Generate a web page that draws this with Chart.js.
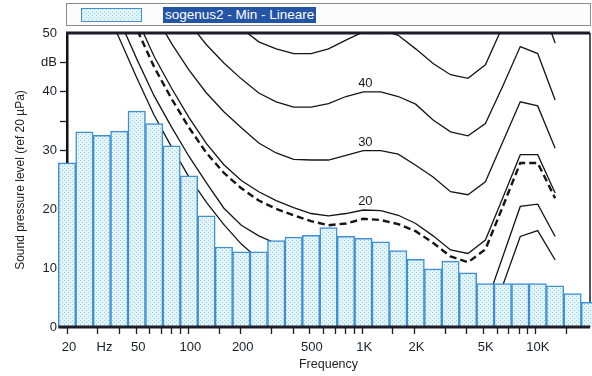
<!DOCTYPE html>
<html>
<head>
<meta charset="utf-8">
<title>sogenus2 - Min - Lineare</title>
<script src="https://cdn.jsdelivr.net/npm/chart.js@4.4.1/dist/chart.umd.min.js"></script>
<style>
  html, body { margin: 0; padding: 0; background: #fff; }
  #wrap { position: relative; width: 592px; height: 376px; overflow: hidden; }
  #spl-chart { position: absolute; left: 0; top: 0; }
  .legend {
    position: absolute; left: 66px; top: 3px; width: 525px; height: 23px;
    box-sizing: border-box; border: 1px solid #8c8c8c; background: #fcfcfc;
  }
  .legend .swatch {
    position: absolute; left: 14px; top: 4px; width: 61px; height: 14px;
    box-sizing: border-box; border: 1.5px solid #3f8fd4; background: #e3f5fb;
  }
  .legend .name {
    position: absolute; left: 96px; top: 3px; height: 16px; line-height: 16px;
    padding: 0 2px; background: #2454a6; color: #fff;
    font: 13.5px "Liberation Sans", Arial, sans-serif;
  }
</style>
</head>
<body>
<div id="wrap">
  <canvas id="spl-chart" width="592" height="376"></canvas>
  <div class="legend">
    <span class="swatch" id="legend-swatch"></span>
    <span class="name">sogenus2 - Min - Lineare</span>
  </div>
</div>
<script>
// terzbanden (nominaal)
const bandHz = [20, 25, 31.5, 40, 50, 63, 80, 100, 125, 160, 200, 250, 315, 400, 500, 630, 800,
  1000, 1250, 1600, 2000, 2500, 3150, 4000, 5000, 6300, 8000, 10000, 12500, 16000, 20000];

// gemeten niveau per band (dB)
const levelDb = [27.9, 33.2, 32.6, 33.3, 36.7, 34.6, 30.8, 25.7, 18.9, 13.6, 12.8, 12.8, 14.7, 15.3,
  15.6, 16.9, 15.4, 15.1, 14.5, 13.0, 11.5, 9.9, 11.2, 9.2, 7.4, 7.4, 7.4, 7.4, 7.0, 5.7, 4.2];

// isofoon-lijnen, 20 Hz .. 12.5 kHz (null = niet getekend)
const curveLow = [null, null, 55.7, 49.1, 42.4, 36.0, 30.6, 25.5, 21.2, 17.4, 14.1, 11.5, 9.0, 7.0,
  5.8, 5.5, 5.2, 4.8, 4.5, 3.5, 3.0, 2.5, 1.5, 1.0, 1.5, 7.1, 15.4, 16.4, 11.4];
const curve10 = [null, null, 58.0, 52.3, 45.6, 39.3, 34.0, 29.0, 24.5, 20.2, 17.3, 15.5, 14.2, 12.0,
  11.0, 10.5, 10.2, 10.0, 9.5, 9.0, 8.0, 6.5, 5.0, 3.5, 3.5, 12.0, 20.5, 20.9, 15.4];
const curveDashed = [null, null, null, 57.2, 50.7, 44.2, 38.8, 33.9, 29.6, 26.2, 23.6, 21.5, 20.1,
  19.0, 18.0, 17.3, 17.6, 18.4, 18.2, 17.5, 16.3, 14.3, 12.0, 11.0, 13.2, 20.5, 27.9, 27.9, 21.9];
const curve20 = [null, null, null, 59.0, 52.5, 46.0, 40.6, 35.6, 31.2, 27.6, 24.9, 23.0, 21.5,
  20.3, 19.3, 18.9, 19.3, 19.9, 19.8, 19.0, 17.6, 15.5, 13.1, 12.5, 14.8, 22.0, 29.3, 29.3, 22.8];
const curve30 = [null, null, null, null, 59.0, 53.3, 48.2, 43.7, 39.8, 36.6, 33.9, 31.3, 29.6,
  28.5, 28.4, 28.4, 29.2, 30.0, 30.0, 29.4, 27.5, 25.5, 23.0, 22.5, 24.7, 31.5, 38.3, 37.6, 30.4];
const curve40 = [null, null, null, null, null, null, 55.5, 51.7, 48.0, 44.9, 42.2, 39.8, 38.3,
  37.4, 37.4, 38.0, 39.2, 40.0, 40.0, 39.2, 37.9, 35.2, 33.2, 32.5, 34.6, 41.0, 47.7, 46.5, 38.6];
const curve50 = [null, null, null, null, null, null, null, null, 56.0, 53.0, 50.8, 48.5, 47.3,
  46.5, 46.5, 47.3, 48.8, 50.2, 50.6, 49.6, 47.3, 44.8, 42.9, 42.3, 44.6, 51.2, 57.7, 56.5, 48.3];

// assen
const freqTickHz = [20, 30, 40, 50, 60, 70, 80, 90, 100, 150, 200, 300, 400, 500, 600, 700, 800, 900,
  1000, 1500, 2000, 3000, 4000, 5000, 6000, 7000, 8000, 9000, 10000, 15000];
const freqLabelHz = [20, 32, 50, 100, 200, 500, 1000, 2000, 5000, 10000];
const freqLabelText = ["20", "Hz", "50", "100", "200", "500", "1K", "2K", "5K", "10K"];
const dbTicks = [0, 10, 20, 30, 35, 40, 45, 50];
const dbTickText = ["0", "10", "20", "30", "", "40", "dB", "50"];

const INK = "#1b1d29";

function dotPattern() {
  const c = document.createElement("canvas");
  c.width = 4;
  c.height = 4;
  const g = c.getContext("2d");
  g.fillStyle = "#e3f5fb";
  g.fillRect(0, 0, 4, 4);
  g.fillStyle = "#8fd0ea";
  g.fillRect(0, 0, 1, 1);
  g.fillRect(2, 2, 1, 1);
  document.getElementById("legend-swatch").style.backgroundImage = `url(${c.toDataURL()})`;
  return g.createPattern(c, "repeat");
}

function toPoints(values) {
  return values
    .map((v, i) => (v === null ? null : { x: i, y: v }))
    .filter((p) => p !== null);
}

function contour(values, extra = {}) {
  return {
    type: "line",
    data: toPoints(values),
    xAxisID: "xb",
    borderColor: "#151515",
    borderWidth: 1.3,
    pointRadius: 0,
    tension: 0,
    order: 1,
    ...extra
  };
}

// rand om het plotvlak (onderlijn over de staven heen)
const framePlugin = {
  id: "frame",
  beforeDatasetsDraw(chart) {
    const { ctx, chartArea: a } = chart;
    ctx.save();
    ctx.strokeStyle = INK;
    ctx.lineWidth = 3;
    ctx.beginPath();
    ctx.moveTo(a.left - 1, a.top);
    ctx.lineTo(a.right, a.top);
    ctx.stroke();
    ctx.lineWidth = 1.5;
    ctx.beginPath();
    ctx.moveTo(a.right, a.top);
    ctx.lineTo(a.right, a.bottom);
    ctx.stroke();
    ctx.restore();
  },
  afterDatasetsDraw(chart) {
    const { ctx, chartArea: a, scales } = chart;
    const half = (scales.xb.getPixelForValue(1) - scales.xb.getPixelForValue(0)) / 2;
    ctx.save();
    ctx.strokeStyle = INK;
    ctx.lineWidth = 3;
    ctx.beginPath();
    ctx.moveTo(a.left - half, a.bottom);
    ctx.lineTo(a.right, a.bottom);
    ctx.stroke();
    ctx.restore();
  }
};

// phon-getallen boven de lijnen bij 1 kHz
const phonLabelPlugin = {
  id: "phonLabels",
  afterDatasetsDraw(chart) {
    const { ctx, scales } = chart;
    const k = bandHz.indexOf(1000);
    ctx.save();
    ctx.font = '13px "Liberation Sans", Arial, sans-serif';
    ctx.fillStyle = "#1a1a1a";
    ctx.textAlign = "center";
    ctx.textBaseline = "alphabetic";
    chart.data.datasets.forEach((ds) => {
      if (!ds.phon) return;
      const p = ds.data.find((d) => d.x === k);
      ctx.fillText(ds.phon, scales.xb.getPixelForValue(k) + 2, scales.y.getPixelForValue(p.y) - 5);
    });
    ctx.restore();
  }
};

Chart.defaults.font.family = '"Liberation Sans", Arial, sans-serif';
Chart.defaults.color = INK;

const canvas = document.getElementById("spl-chart");
new Chart(canvas, {
  type: "bar",
  data: {
    datasets: [
      {
        label: "sogenus2 - Min - Lineare",
        data: levelDb.map((v, i) => ({ x: i, y: v })),
        xAxisID: "xb",
        backgroundColor: dotPattern(),
        borderColor: "#3f8fd4",
        borderWidth: 1.5,
        barPercentage: 1,
        categoryPercentage: 1,
        clip: false,
        order: 0
      },
      contour(curveLow),
      contour(curve10),
      contour(curveDashed, { borderWidth: 2.4, borderDash: [7, 4] }),
      contour(curve20, { phon: "20" }),
      contour(curve30, { phon: "30" }),
      contour(curve40, { phon: "40" }),
      contour(curve50)
    ]
  },
  options: {
    responsive: false,
    animation: false,
    layout: { padding: { top: 33, right: 2, left: 0, bottom: 0 } },
    plugins: {
      legend: { display: false },
      tooltip: { enabled: false }
    },
    scales: {
      xb: {
        type: "linear",
        axis: "x",
        position: "bottom",
        offset: false,
        min: 0,
        max: bandHz.length - 1,
        display: false,
        grid: { offset: false },
        ticks: { stepSize: 1 }
      },
      x: {
        type: "logarithmic",
        position: "bottom",
        offset: false,
        min: 20,
        max: 20480,
        afterBuildTicks: (axis) => {
          const vals = [...new Set([...freqTickHz, ...freqLabelHz])].sort((a, b) => a - b);
          axis.ticks = vals.map((v) => ({ value: v }));
        },
        afterFit: (axis) => {
          axis.height = 49;
        },
        border: { display: false },
        grid: {
          display: true,
          offset: false,
          drawOnChartArea: false,
          drawTicks: true,
          tickLength: 7,
          tickWidth: 1.3,
          tickColor: (c) => (c.tick && freqTickHz.includes(c.tick.value) ? INK : "rgba(0,0,0,0)")
        },
        ticks: {
          autoSkip: false,
          maxRotation: 0,
          padding: 6,
          labelOffset: 2,
          color: INK,
          font: { size: 13 },
          callback: (value) => {
            const k = freqLabelHz.indexOf(value);
            return k < 0 ? "" : freqLabelText[k];
          }
        },
        title: {
          display: true,
          text: "Frequency",
          color: "#222",
          font: { size: 12.5 },
          padding: { top: 0, bottom: 4 }
        }
      },
      y: {
        min: 0,
        max: 50,
        afterBuildTicks: (axis) => {
          axis.ticks = dbTicks.map((v) => ({ value: v }));
        },
        afterFit: (axis) => {
          axis.width = 67;
        },
        border: { display: true, color: "#111", width: 2.5 },
        grid: {
          display: true,
          drawOnChartArea: false,
          drawTicks: true,
          tickLength: 7,
          tickWidth: 1.3,
          tickColor: (c) => (c.tick && c.tick.value === 50 ? "rgba(0,0,0,0)" : INK)
        },
        ticks: {
          padding: 3,
          color: INK,
          font: { size: 13 },
          callback: (value) => {
            const k = dbTicks.indexOf(value);
            return k < 0 ? "" : dbTickText[k];
          }
        },
        title: {
          display: true,
          text: "Sound pressure level (ref 20 µPa)",
          color: "#222",
          font: { size: 12 },
          padding: { top: 13, bottom: 0 }
        }
      }
    }
  },
  plugins: [framePlugin, phonLabelPlugin]
});
</script>
</body>
</html>
